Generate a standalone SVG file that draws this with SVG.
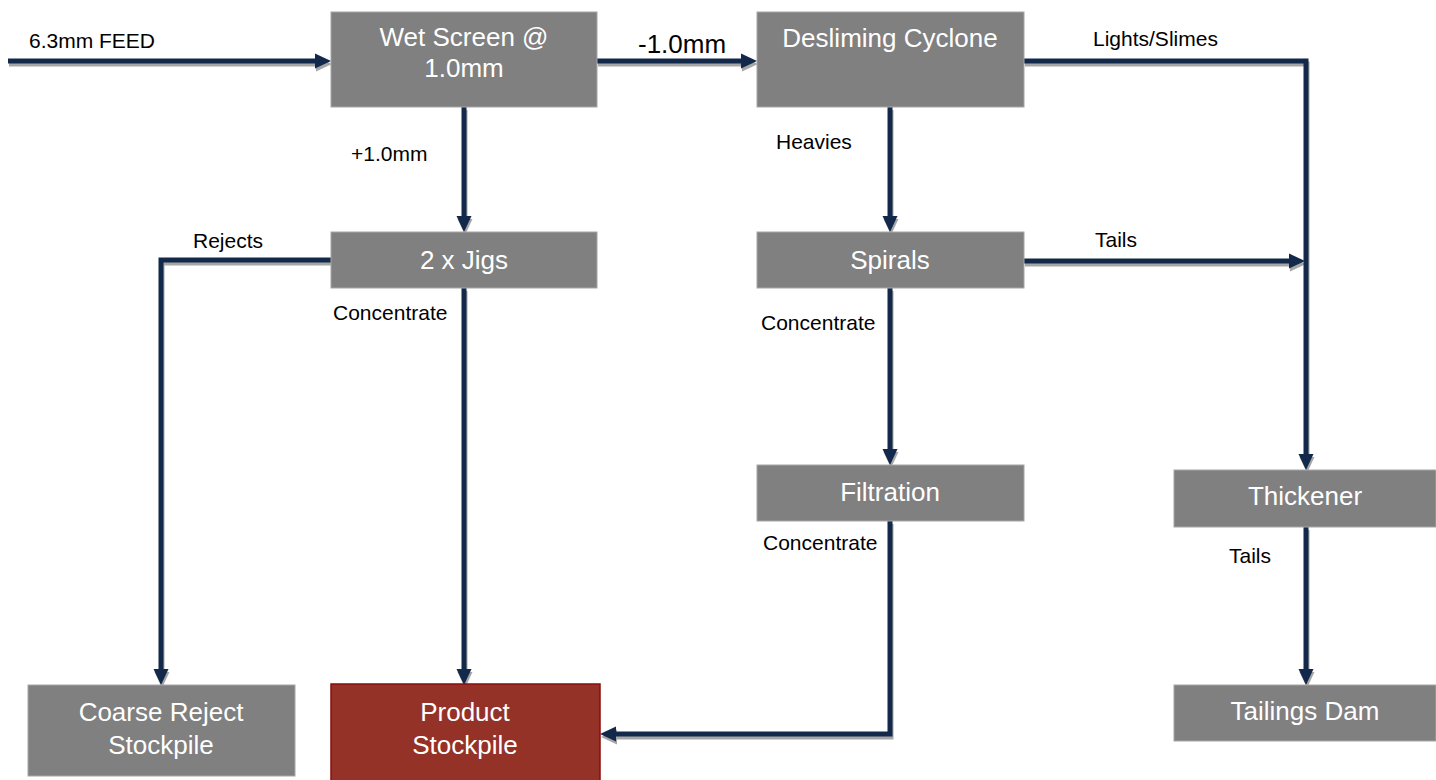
<svg xmlns="http://www.w3.org/2000/svg" width="1436" height="780" viewBox="0 0 1436 780">
<style>
.box{fill:#808080;stroke:#a6a6a6;stroke-width:1}
.prod{fill:#943228;stroke:#8b0d0d;stroke-width:1.5}
.nt{font-family:"Liberation Sans",Arial,sans-serif;font-size:26px;fill:#ffffff;text-anchor:middle}
.lb{font-family:"Liberation Sans",Arial,sans-serif;font-size:21px;fill:#000000}
.ln{fill:none;stroke:#13294b;stroke-width:5;stroke-linejoin:miter;marker-end:url(#ah)}
.sh{fill:none;stroke:#a6a6a6;stroke-width:5;stroke-linejoin:miter;marker-end:url(#ahs)}
.noend{marker-end:none}
</style>
<defs>
<marker id="ah" markerUnits="userSpaceOnUse" markerWidth="17" markerHeight="17" refX="0" refY="8" orient="auto" viewBox="0 0 17 16">
<path d="M0,0.5 L16,8 L0,15.5 Z" fill="#13294b"/>
</marker>
<marker id="ahs" markerUnits="userSpaceOnUse" markerWidth="17" markerHeight="17" refX="0" refY="8" orient="auto" viewBox="0 0 17 16">
<path d="M0,0.5 L16,8 L0,15.5 Z" fill="#a6a6a6"/>
</marker>
</defs>
<rect width="1436" height="780" fill="#ffffff"/>
<g id="connectors">
<g id="shadows" transform="translate(1,3)">
<path class="sh" d="M8,61 H315"/>
<path class="sh" d="M597,61 H741"/>
<path class="sh" d="M1024,61 H1306 V454"/>
<path class="sh" d="M464,107 V216"/>
<path class="sh" d="M331,260 H161 V669"/>
<path class="sh" d="M464,288 V669"/>
<path class="sh" d="M890,107 V216"/>
<path class="sh" d="M1024,261 H1289"/>
<path class="sh" d="M890,288 V449"/>
<path class="sh" d="M890,521 V734 H616"/>
<path class="sh" d="M1306,527 V669"/>
</g>
<path class="ln" d="M8,61 H315"/>
<path class="ln" d="M597,61 H741"/>
<path class="ln" d="M1024,61 H1306 V454"/>
<path class="ln" d="M464,107 V216"/>
<path class="ln" d="M331,260 H161 V669"/>
<path class="ln" d="M464,288 V669"/>
<path class="ln" d="M890,107 V216"/>
<path class="ln" d="M1024,261 H1289"/>
<path class="ln" d="M890,288 V449"/>
<path class="ln" d="M890,521 V734 H616"/>
<path class="ln" d="M1306,527 V669"/>
<g id="labels">
<text class="lb" x="29" y="48">6.3mm FEED</text>
<text class="lb" x="638" y="53" style="font-size:26px">-1.0mm</text>
<text class="lb" x="1093" y="46">Lights/Slimes</text>
<text class="lb" x="351" y="161">+1.0mm</text>
<text class="lb" x="776" y="149">Heavies</text>
<text class="lb" x="193" y="248">Rejects</text>
<text class="lb" x="1095" y="247">Tails</text>
<text class="lb" x="333" y="320">Concentrate</text>
<text class="lb" x="761" y="330">Concentrate</text>
<text class="lb" x="763" y="550">Concentrate</text>
<text class="lb" x="1229" y="563">Tails</text>
</g>
</g>
<g id="wet-screen">
<rect class="box" x="331" y="12" width="266" height="95"/>
<text class="nt" x="464" y="46">Wet Screen @</text>
<text class="nt" x="464" y="77">1.0mm</text>
</g>
<g id="desliming-cyclone">
<rect class="box" x="757" y="12" width="267" height="95"/>
<text class="nt" x="890" y="47">Desliming Cyclone</text>
</g>
<g id="jigs">
<rect class="box" x="331" y="232" width="266" height="56"/>
<text class="nt" x="464" y="269">2 x Jigs</text>
</g>
<g id="spirals">
<rect class="box" x="757" y="232" width="267" height="56"/>
<text class="nt" x="890" y="269">Spirals</text>
</g>
<g id="filtration">
<rect class="box" x="757" y="465" width="267" height="56"/>
<text class="nt" x="890" y="501">Filtration</text>
</g>
<g id="thickener">
<rect class="box" x="1174" y="470" width="262" height="57"/>
<text class="nt" x="1305" y="505">Thickener</text>
</g>
<g id="coarse-reject-stockpile">
<rect class="box" x="28" y="685" width="267" height="91"/>
<text class="nt" x="161" y="721">Coarse Reject</text>
<text class="nt" x="161" y="754">Stockpile</text>
</g>
<g id="product-stockpile">
<rect class="prod" x="331" y="684" width="269" height="97"/>
<text class="nt" x="465" y="721">Product</text>
<text class="nt" x="465" y="754">Stockpile</text>
</g>
<g id="tailings-dam">
<rect class="box" x="1174" y="685" width="262" height="56"/>
<text class="nt" x="1305" y="720">Tailings Dam</text>
</g>
</svg>
